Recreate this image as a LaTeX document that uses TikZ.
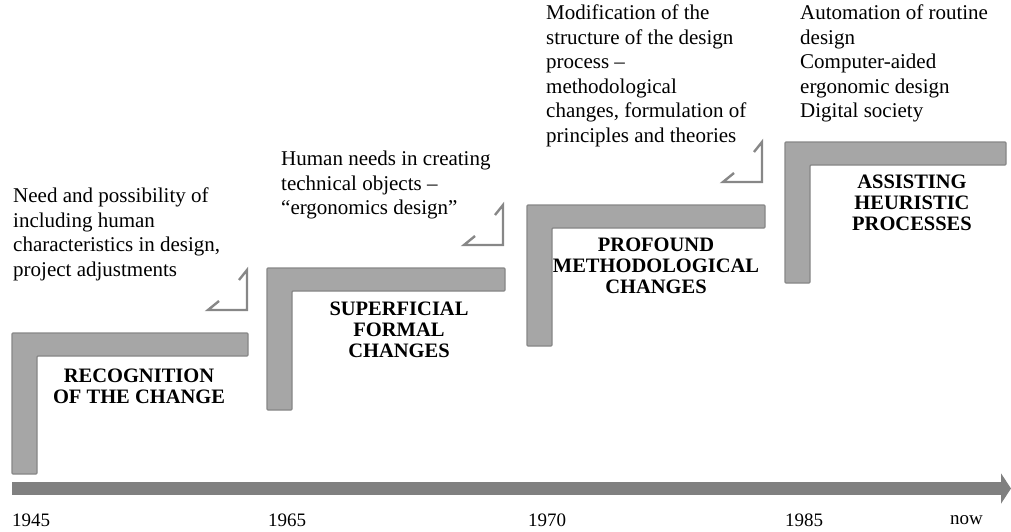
\documentclass[tikz,border=0pt]{standalone}
\usepackage{fontspec}
\setmainfont{Liberation Serif}[BoldFont={Liberation Serif Bold}]
\usepackage{tikz}
\usetikzlibrary{arrows.meta}

\definecolor{stepfill}{HTML}{A6A6A6}
\definecolor{stepline}{HTML}{878787}
\definecolor{axisgray}{HTML}{808080}

% L-shaped step: top-left corner, bar length, leg length
\newcommand{\stepL}[3]{%
  \draw[stepbar] (#1) -- ++(#2,0) -- ++(0,23) -- ++(-#2+25,0)
     -- ++(0,#3-23) -- ++(-25,0) -- cycle;}

\tikzset{
  stepbar/.style={fill=stepfill, draw=stepline, line width=1.2pt, rounded corners=1pt},
  phase/.style={font=\fontsize{20.5}{21}\selectfont\bfseries, align=center, inner sep=0pt},
  note/.style={font=\fontsize{21}{24.5}\selectfont, align=left, anchor=north west, inner sep=0pt},
  year/.style={font=\fontsize{19}{22}\selectfont, anchor=west, inner sep=0pt},
  hook/.style={draw=stepline, line width=2.4pt, line join=miter}
}

\begin{document}
\begin{tikzpicture}[x=1pt, y=-1pt]
  \useasboundingbox (0,0) rectangle (1011,532);

  % time axis
  \coordinate (t0) at (12,488.5);
  \coordinate (t1) at (1011,488.5);
  \draw[axisgray, line width=13pt, -{Triangle[length=10pt, width=30pt]}] (t0) -- (t1);

  \node[year] (y45) at (12,520) {1945};
  \node[year] (y65) at (268,520) {1965};
  \node[year] (y70) at (528,520) {1970};
  \node[year] (y85) at (785,520) {1985};
  \node[year] (ynow) at (950,520) {now};

  % steps
  \coordinate (s1) at (12,333);
  \coordinate (s2) at (267,268);
  \coordinate (s3) at (527,205);
  \coordinate (s4) at (785,142);
  \stepL{s1}{236}{141}
  \stepL{s2}{238}{142}
  \stepL{s3}{238}{141}
  \stepL{s4}{221}{141}

  \node[phase] (recog) at (139,386) {RECOGNITION\\OF THE CHANGE};
  \node[phase] (superf) at (399,330) {SUPERFICIAL\\FORMAL\\CHANGES};
  \node[phase] (profound) at (656,266) {PROFOUND\\METHODOLOGICAL\\CHANGES};
  \node[phase] (assist) at (912,203) {ASSISTING\\HEURISTIC\\PROCESSES};

  % descriptions
  \node[note] (n1) at (13,188) {Need and possibility of\\including human\\characteristics in design,\\project adjustments};
  \node[note] (n2) at (281,151) {Human needs in creating\\technical objects --\\``ergonomics design''};
  \node[note] (n3) at (546,5) {Modification of the\\structure of the design\\process --\\methodological\\changes, formulation of\\principles and theories};
  \node[note] (n4) at (800,5) {Automation of routine\\design\\Computer-aided\\ergonomic design\\Digital society};

  % small bent markers
  \coordinate (h1) at (247,270);
  \coordinate (h2) at (503,205);
  \coordinate (h3) at (762,142);
  \foreach \h in {h1,h2,h3}
    \draw[hook] (\h) ++(-8,10) -- ++(8,-10) -- ++(0,40) -- ++(-39,0) -- ++(11,-9);
\end{tikzpicture}
\end{document}
